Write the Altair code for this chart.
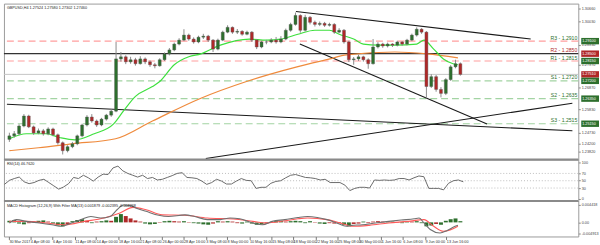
import altair as alt
import pandas as pd

# ---------------- data ----------------
first_open = 1.2440
close = [1.2457, 1.2467, 1.2504, 1.2552, 1.2500, 1.2471, 1.2481, 1.2467, 1.2490, 1.2462,
         1.2424, 1.2386, 1.2405, 1.2419, 1.2457, 1.2509, 1.2547, 1.2528, 1.2509, 1.2537,
         1.2556, 1.2575, 1.2825, 1.2835, 1.2811, 1.2821, 1.2802, 1.2825, 1.2811, 1.2797,
         1.2792, 1.2821, 1.2849, 1.2868, 1.2896, 1.2915, 1.2939, 1.2920, 1.2906, 1.2929,
         1.2934, 1.2915, 1.2872, 1.2915, 1.2953, 1.2976, 1.2953, 1.2957, 1.2943, 1.2953,
         1.2915, 1.2882, 1.2906, 1.2906, 1.2915, 1.2906, 1.2920, 1.2962, 1.2990, 1.3033,
         1.2962, 1.3024, 1.3000, 1.2990, 1.2995, 1.2986, 1.2990, 1.2953, 1.2962, 1.2906,
         1.2821, 1.2825, 1.2835, 1.2821, 1.2802, 1.2882, 1.2896, 1.2887, 1.2896, 1.2891,
         1.2906, 1.2896, 1.2915, 1.2939, 1.2967, 1.2953, 1.2693, 1.2740, 1.2679, 1.2660,
         1.2726, 1.2787, 1.2802, 1.2751]
high = [1.2472, 1.2480, 1.2512, 1.2561, 1.2558, 1.2506, 1.2492, 1.2490, 1.2498, 1.2496,
        1.2468, 1.2430, 1.2412, 1.2428, 1.2463, 1.2515, 1.2556, 1.2561, 1.2535, 1.2543,
        1.2562, 1.2584, 1.2906, 1.2858, 1.2842, 1.2835, 1.2830, 1.2838, 1.2832, 1.2818,
        1.2806, 1.2828, 1.2856, 1.2877, 1.2903, 1.2924, 1.2967, 1.2946, 1.2928, 1.2936,
        1.2945, 1.2940, 1.2920, 1.2922, 1.2960, 1.2986, 1.2980, 1.2968, 1.2962, 1.2960,
        1.2958, 1.2920, 1.2912, 1.2916, 1.2924, 1.2930, 1.2934, 1.2970, 1.2998, 1.3047,
        1.3038, 1.3036, 1.3030, 1.3008, 1.3004, 1.3002, 1.2998, 1.2996, 1.2972, 1.2968,
        1.2912, 1.2834, 1.2845, 1.2840, 1.2828, 1.2920, 1.2905, 1.2902, 1.2903, 1.2900,
        1.2912, 1.2910, 1.2921, 1.2946, 1.2976, 1.2972, 1.2958, 1.2752, 1.2748, 1.2690,
        1.2733, 1.2795, 1.2821, 1.2808]
low = [1.2428, 1.2448, 1.2460, 1.2498, 1.2494, 1.2462, 1.2465, 1.2458, 1.2460, 1.2455,
       1.2415, 1.2368, 1.2378, 1.2398, 1.2412, 1.2450, 1.2502, 1.2520, 1.2500, 1.2503,
       1.2530, 1.2548, 1.2570, 1.2812, 1.2800, 1.2802, 1.2793, 1.2798, 1.2800, 1.2787,
       1.2780, 1.2788, 1.2815, 1.2842, 1.2862, 1.2890, 1.2910, 1.2912, 1.2898, 1.2900,
       1.2920, 1.2906, 1.2858, 1.2866, 1.2910, 1.2948, 1.2945, 1.2944, 1.2936, 1.2938,
       1.2906, 1.2872, 1.2876, 1.2895, 1.2900, 1.2898, 1.2900, 1.2914, 1.2955, 1.2984,
       1.2950, 1.2956, 1.2990, 1.2980, 1.2982, 1.2978, 1.2980, 1.2945, 1.2948, 1.2898,
       1.2810, 1.2797, 1.2815, 1.2812, 1.2778, 1.2798, 1.2875, 1.2878, 1.2880, 1.2882,
       1.2885, 1.2888, 1.2890, 1.2910, 1.2932, 1.2945, 1.2637, 1.2686, 1.2668, 1.2641,
       1.2652, 1.2720, 1.2780, 1.2745]

green_ma_idx = [0, 3.5, 7.5, 10.5, 13.5, 17.5, 21.5, 23.5, 26, 29.5, 31, 34, 37, 39.5, 43.5,
                49.5, 53, 56, 59.5, 63, 66, 68, 71, 73, 76, 79.5, 84, 85.5, 87.5, 89.5, 91.5, 92.5]
green_ma = [1.2443, 1.2467, 1.2467, 1.2448, 1.2438, 1.2467, 1.2514, 1.2575, 1.2646, 1.2693,
            1.2717, 1.2797, 1.2835, 1.2849, 1.2891, 1.2920, 1.2915, 1.2920, 1.2943, 1.2962,
            1.2962, 1.2943, 1.2920, 1.2896, 1.2891, 1.2891, 1.2896, 1.2915, 1.2872, 1.2825,
            1.2802, 1.2797]
orange_ma_idx = [0, 6, 12.9, 21.9, 29.5, 39.5, 48.9, 59.5, 66.1, 69.5, 79.5, 86.1, 92.5]
orange_ma = [1.2386, 1.2400, 1.2419, 1.2443, 1.2528, 1.2637, 1.2717, 1.2788, 1.2825, 1.2844,
             1.2858, 1.2849, 1.2830]

trend_id = ["t1", "t1", "t2", "t2", "t3", "t3", "t4", "t4"]
trend_idx = [59.1, 107.5, 59.9, 98.5, -0.5, 116.1, 40.5, 116.1]
trend_price = [1.3052, 1.2920, 1.2896, 1.2514, 1.2608, 1.2481, 1.2349, 1.2613]

level_names = ["R3 - 1.2910", "R2 - 1.2850", "R1 - 1.2815", "S1 - 1.2720", "S2 - 1.2635", "S3 - 1.2515"]
level_values = [1.2910, 1.2850, 1.2815, 1.2720, 1.2635, 1.2515]
level_kind = ["r", "p", "r", "s", "s", "s"]
last_price = 1.2751

box_values = [1.2910, 1.2850, 1.2815, 1.2751, 1.2720, 1.2635, 1.2515]
box_kind = ["r", "k", "r", "k", "s", "s", "s"]

price_ticks = [1.3066, 1.3003, 1.2893, 1.2797, 1.2687, 1.2583, 1.2473, 1.2420, 1.2382]

rsi = [40, 51, 56, 60, 47, 42, 45, 51, 54, 45, 36, 27, 33, 42, 59, 56, 65, 58, 49, 60,
       68, 67, 85, 90, 77, 70, 65, 60, 65, 56, 59, 52, 54, 59, 64, 70, 72, 59, 58, 56,
       49, 40, 45, 54, 49, 41, 41, 49, 56, 51, 50, 29, 32, 32, 43, 48, 50, 58, 65, 67,
       63, 59, 58, 56, 52, 54, 45, 45, 45, 38, 23, 29, 32, 32, 30, 52, 51, 52, 51, 52,
       56, 56, 52, 58, 63, 61, 29, 29, 29, 25, 43, 50, 52, 47]
rsi_ticks = [0, 30, 50, 70, 100]

hist = [0.0004, 0.0006, -0.0003, -0.0005, -0.0002, 0.0002, 0.0004, 0.0005, 0.0002, -0.0003,
        -0.0008, -0.0010, -0.0004, 0.0003, 0.0006, 0.0008, 0.0004, -0.0002, 0.0002, 0.0003,
        0.0005, 0.0004, 0.0014, 0.0021, 0.0016, 0.0010, 0.0005, 0.0002, -0.0003, -0.0005,
        -0.0004, -0.0001, 0.0003, 0.0004, 0.0003, 0.0002, 0.0003, 0.0001, -0.0002, -0.0003,
        -0.0005, -0.0006, -0.0003, 0.0003, 0.0002, 0.0003, 0.0002, -0.0002, -0.0003, 0.0002,
        -0.0003, -0.0006, -0.0005, -0.0003, 0.0001, 0.0003, 0.0004, 0.0002, 0.0003, 0.0004,
        0.0003, -0.0002, 0.0003, 0.0001, -0.0003, -0.0004, -0.0002, -0.0003, -0.0002, -0.0006,
        -0.0010, -0.0004, -0.0003, 0.0002, -0.0002, 0.0002, 0.0003, 0.0002, 0.0003, 0.0002,
        0.0001, -0.0002, 0.0002, 0.0002, 0.0003, -0.0002, -0.0010, -0.0008, -0.0004, -0.0006,
        0.0004, 0.0008, 0.0010, 0.0003]
hist_kind = ["g", "g", "r", "r", "n", "n", "g", "g", "n", "r",
             "r", "r", "n", "g", "g", "g", "n", "r", "n", "g",
             "g", "n", "g", "g", "n", "n", "n", "n", "r", "r",
             "r", "n", "g", "g", "n", "n", "g", "n", "r", "r",
             "r", "r", "n", "g", "n", "g", "n", "n", "r", "g",
             "r", "r", "r", "n", "n", "g", "g", "n", "g", "g",
             "g", "r", "g", "n", "r", "r", "n", "n", "n", "r",
             "r", "n", "n", "g", "n", "n", "n", "n", "g", "g",
             "n", "r", "g", "n", "g", "r", "r", "r", "n", "r",
             "g", "g", "g", "r"]

macd_idx = [0, 1.5, 3.5, 6.2, 8.8, 10.8, 12.8, 14.8, 16.8, 18.8, 20.8, 22.2, 23.5, 24.8,
            26.2, 28.2, 30.8, 32.8, 36.2, 38.2, 40.8, 43.5, 45.5, 47.5, 50.2, 52.2, 54.2,
            56.8, 59.5, 61.5, 63.5, 65.5, 67.5, 69.5, 70.5, 72.8, 75.5, 78.2, 80.8, 83.5,
            84.5, 85.5, 86.8, 88.8, 90.2, 91.5, 92.5]
macd_vals = [-0.00015, 0.0007, 0.00025, -0.00015, -0.0006, -0.0010, -0.00015, 0.0007, 0.0015,
             0.0011, 0.0015, 0.0032, 0.0044, 0.0043, 0.0036, 0.0028, 0.0018, 0.0015, 0.0019,
             0.0015, 0.0007, 0.0007, 0.0011, 0.0009, -0.00015, -0.0006, 0.00025, 0.0007,
             0.00125, 0.0015, 0.00125, 0.0007, -0.00015, -0.0010, -0.00075, -0.0006, -0.00015,
             0.00025, 0.0006, 0.0009, 0.0011, -0.00015, -0.0018, -0.0027, -0.0021, -0.00125,
             -0.00075]
signal_idx = [0, 3.5, 7.5, 11.5, 15.5, 19.5, 22.8, 25.5, 28.2, 31.5, 36.2, 40.8, 46.2, 50.2,
              52.8, 56.8, 59.5, 61.5, 65.5, 68.2, 70.8, 74.2, 78.2, 82.2, 85.5, 87.5, 89.5,
              91.5, 92.5]
signal_vals = [0.00025, 0.00025, -0.00015, -0.0006, 0.00025, 0.0011, 0.0024, 0.0038, 0.0032,
               0.0019, 0.0018, 0.0011, 0.00085, 0.00025, -0.00015, 0.0004, 0.0009, 0.0011,
               0.0007, -0.00015, -0.0010, -0.00075, -0.00015, 0.00025, 0.0007, -0.0010,
               -0.00225, -0.0016, -0.0010]

date_tick_idx = [-0.1, 4.3, 8.9, 13.5, 17.9, 22.5, 26.9, 31.5, 35.9, 40.5, 44.9, 49.5, 54.1,
                 58.5, 63.1, 67.7, 72.1, 76.7, 81.1, 85.7, 90.1]
date_labels = ["30 Mar 2017", "4 Apr 08:00", "6 Apr 16:00", "11 Apr 08:00", "14 Apr 00:00",
               "18 Apr 16:00", "21 Apr 08:00", "26 Apr 00:00", "28 Apr 16:00", "3 May 08:00",
               "8 May 00:00", "10 May 16:00", "15 May 08:00", "18 May 00:00", "22 May 16:00",
               "25 May 08:00", "30 May 00:00", "1 Jun 16:00", "6 Jun 08:00", "9 Jun 00:00",
               "13 Jun 16:00"]

macd_ticks = [0.0044, 0.0, -0.0028]
macd_tick_labels = ["0.004418", "0.00", "-0.004913"]

header_main = "GBPUSD,H4  1.27524 1.27580 1.27302 1.27460"
header_rsi = "RSI(14) 46.7620"
header_macd = "MACD Histogram (12,26,9) With Filter MA(13) 0.001879 -0.002395 -0.004268"

# ---------------- styling ----------------
FONT = "Liberation Sans"
SMALL = 3.8
W = 582
H_MAIN, H_RSI, H_MACD = 158, 42, 36
xscale = alt.Scale(domain=[-0.1, 116.3], nice=False, zero=False)
yscale = alt.Scale(domain=[1.23438, 1.30896], nice=False, zero=False)
rsi_scale = alt.Scale(domain=[-5.4, 108.1], nice=False, zero=False)
macd_scale = alt.Scale(domain=[-0.003575, 0.005425], nice=False, zero=False)

def right_axis(**kw):
    return alt.Axis(orient="right", labelFontSize=SMALL, labelColor="#444", tickSize=2,
                    tickColor="#888", domain=False, grid=False, labelPadding=1, title=None,
                    labelFont=FONT, labelOverlap=False, **kw)

price_axis = right_axis(values=price_ticks, format=".5f")
rsi_axis = right_axis(values=rsi_ticks)
mlab_expr = " : ".join(
    [f"datum.value > {v - 0.0005} ? '{l}'" for v, l in zip(macd_ticks[:-1], macd_tick_labels[:-1])]
    + [f"'{macd_tick_labels[-1]}'"])
macd_axis = right_axis(values=macd_ticks, labelExpr=mlab_expr)
dlab_expr = " : ".join(
    [f"datum.value < {v + 1} ? '{l}'" for v, l in zip(date_tick_idx[:-1], date_labels[:-1])]
    + [f"'{date_labels[-1]}'"])
date_axis = alt.Axis(values=date_tick_idx, labelExpr=dlab_expr, labelAlign="left",
                     labelFontSize=SMALL, labelColor="#333", tickSize=3, tickColor="#777",
                     domain=False, grid=False, labelPadding=0, title=None,
                     labelFont=FONT, labelFlush=False, labelOverlap=False)

X = lambda f: alt.X(f, type="quantitative", scale=xscale, axis=None)
XM = lambda f: alt.X(f, type="quantitative", scale=xscale, axis=date_axis)
YP = lambda f: alt.Y(f, type="quantitative", scale=yscale, axis=price_axis)
YR = lambda f: alt.Y(f, type="quantitative", scale=rsi_scale, axis=rsi_axis)
YM = lambda f: alt.Y(f, type="quantitative", scale=macd_scale, axis=macd_axis)

opens = [first_open] + close[:-1]
candles = pd.DataFrame({"i": list(range(len(close))), "open": opens, "close": close,
                        "high": high, "low": low})
candles["dir"] = ["up" if c >= o else "down" for o, c in zip(opens, close)]

base = alt.Chart(candles)
wicks = base.mark_rule(color="#8a8a8a", strokeWidth=1).encode(x=X("i"), y=YP("low"), y2="high:Q")
bodies = base.mark_bar(size=3, stroke="#555", strokeWidth=0.4).encode(
    x=X("i"), y=YP("open"), y2="close:Q",
    color=alt.Color("dir:N", scale=alt.Scale(domain=["up", "down"], range=["#2d6f2d", "#b02828"]),
                    legend=None))

gma = alt.Chart(pd.DataFrame({"i": green_ma_idx, "v": green_ma})).mark_line(
    color="#3ee03e", strokeWidth=1.2, interpolate="monotone").encode(x=X("i"), y=YP("v"))
oma = alt.Chart(pd.DataFrame({"i": orange_ma_idx, "v": orange_ma})).mark_line(
    color="#ef8a3c", strokeWidth=1.2, interpolate="monotone").encode(x=X("i"), y=YP("v"))

trends = alt.Chart(pd.DataFrame({"id": trend_id, "i": trend_idx, "v": trend_price})).mark_line(
    color="#1a1a1a", strokeWidth=1.1, clip=True).encode(x=X("i"), y=YP("v"), detail="id:N")

levels_df = pd.DataFrame({"name": level_names, "v": level_values, "kind": level_kind})
red_lines = alt.Chart(levels_df[levels_df.kind == "r"]).mark_rule(
    color="#ff9e9e", strokeDash=[7, 4], strokeWidth=1.2).encode(y=YP("v"))
green_lines = alt.Chart(levels_df[levels_df.kind == "s"]).mark_rule(
    color="#a3d4a3", strokeDash=[7, 4], strokeWidth=1.2).encode(y=YP("v"))
pivot_line = alt.Chart(levels_df[levels_df.kind == "p"]).mark_rule(
    color="#333", strokeWidth=1.3).encode(y=YP("v"))
price_line = alt.Chart(pd.DataFrame({"v": [last_price]})).mark_rule(
    color="#c4c4c4", strokeWidth=1).encode(y=YP("v"))
level_text = alt.Chart(levels_df).mark_text(
    align="right", baseline="bottom", fontSize=5.2, font=FONT, dy=-0.5).encode(
    x=alt.value(W - 1), y=YP("v"), text="name:N",
    color=alt.Color("kind:N", scale=alt.Scale(domain=["r", "p", "s"],
                                              range=["#ff6a6a", "#ff6a6a", "#6aaf6a"]), legend=None))

box_df = pd.DataFrame({"v": box_values, "kind": box_kind,
                       "t": [f"{v:.5f}" for v in box_values]})
boxes = alt.Chart(box_df).mark_point(
    shape="M-1,-0.36L1,-0.36L1,0.36L-1,0.36Z", filled=True, size=324, opacity=1).encode(
    x=alt.value(W + 12), y=YP("v"),
    color=alt.Color("kind:N", scale=alt.Scale(domain=["r", "k", "s"],
                                              range=["#ff2b2b", "#111111", "#1f8f1f"]), legend=None))
box_text = alt.Chart(box_df).mark_text(
    align="left", baseline="middle", fontSize=SMALL, font=FONT, color="white").encode(
    x=alt.value(W + 4), y=YP("v"), text="t:N")

head_main = alt.Chart(pd.DataFrame({"t": [header_main]})).mark_text(
    align="left", baseline="top", fontSize=SMALL, font=FONT, color="#222").encode(
    x=alt.value(3), y=alt.value(2), text="t:N")

main = alt.layer(red_lines, green_lines, pivot_line, price_line, trends, oma, gma,
                 wicks, bodies, level_text, boxes, box_text, head_main).properties(
    width=W, height=H_MAIN)

# RSI panel
rsi_df = pd.DataFrame({"i": list(range(len(rsi))), "v": rsi})
rsi_levels = alt.Chart(pd.DataFrame({"v": [30, 50, 70]})).mark_rule(
    color="#bdbdbd", strokeDash=[1, 2], strokeWidth=1).encode(y=YR("v"))
rsi_line = alt.Chart(rsi_df).mark_line(color="#6a6a6a", strokeWidth=1).encode(x=X("i"), y=YR("v"))
rsi_head = alt.Chart(pd.DataFrame({"t": [header_rsi]})).mark_text(
    align="left", baseline="top", fontSize=SMALL, font=FONT, color="#222").encode(
    x=alt.value(3), y=alt.value(3), text="t:N")
sep_rsi = alt.Chart(pd.DataFrame({"a": [0]})).mark_rule(color="#8a8a8a", strokeWidth=2).encode(
    x=alt.value(0), x2=alt.value(W), y=alt.value(0))
rsi_panel = alt.layer(rsi_levels, rsi_line, rsi_head, sep_rsi).properties(width=W, height=H_RSI)

# MACD panel
hist_df = pd.DataFrame({"i": list(range(len(hist))), "v": hist, "k": hist_kind})
hist_bars = alt.Chart(hist_df).mark_bar(size=4).encode(
    x=XM("i"), y=YM("v"), y2=alt.datum(0),
    color=alt.Color("k:N", scale=alt.Scale(domain=["g", "r", "n"],
                                           range=["#1fa51f", "#f02020", "#d2d2d2"]), legend=None))
macd_line = alt.Chart(pd.DataFrame({"i": macd_idx, "v": macd_vals})).mark_line(
    color="#707070", strokeWidth=1.1, interpolate="monotone").encode(x=XM("i"), y=YM("v"))
signal_line = alt.Chart(pd.DataFrame({"i": signal_idx, "v": signal_vals})).mark_line(
    color="#ff5a5a", strokeWidth=1.1, interpolate="monotone").encode(x=XM("i"), y=YM("v"))
macd_head = alt.Chart(pd.DataFrame({"t": [header_macd]})).mark_text(
    align="left", baseline="top", fontSize=SMALL, font=FONT, color="#222").encode(
    x=alt.value(3), y=alt.value(3), text="t:N")
sep_macd = alt.Chart(pd.DataFrame({"a": [0]})).mark_rule(color="#8a8a8a", strokeWidth=2).encode(
    x=alt.value(0), x2=alt.value(W), y=alt.value(0))
macd_panel = alt.layer(hist_bars, signal_line, macd_line, macd_head, sep_macd).properties(
    width=W, height=H_MACD)

chart = alt.vconcat(main, rsi_panel, macd_panel, spacing=0, bounds="flush").properties(
    padding={"left": 2, "top": 1, "right": 0, "bottom": 0},
    background="white",
).configure_view(stroke="#9a9a9a", strokeWidth=1).configure_axis(labelFont=FONT)

chart.save("out.html", embed_options={"renderer": "svg", "actions": False})
